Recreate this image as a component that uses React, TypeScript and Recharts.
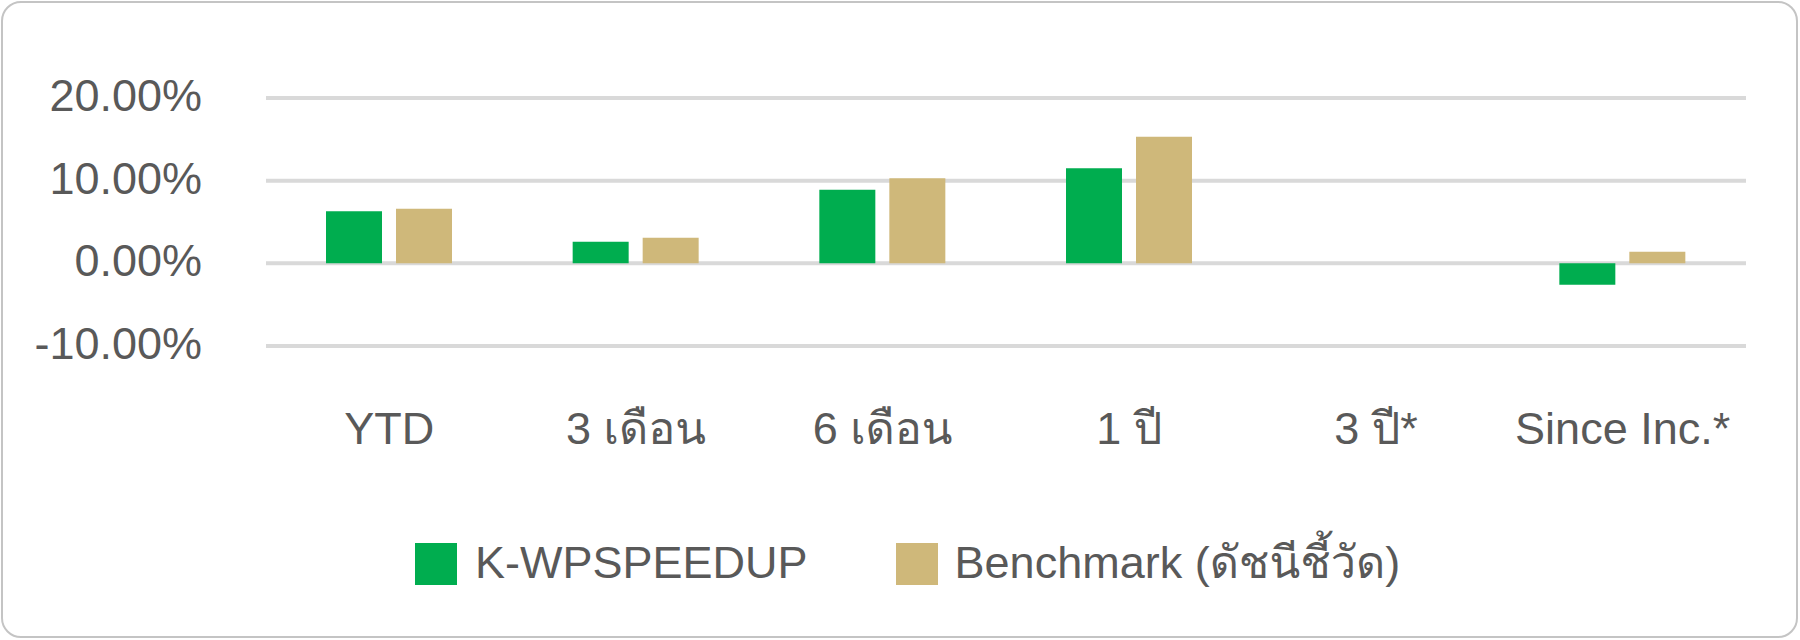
import React from 'react';
import { BarChart, Bar, XAxis, YAxis, CartesianGrid, Legend } from 'recharts';

const categories = ['YTD', '3 เดือน', '6 เดือน', '1 ปี', '3 ปี*', 'Since Inc.*'];
const fundValues: (number | null)[] = [6.3, 2.6, 8.9, 11.5, null, -2.6];
const benchmarkValues: (number | null)[] = [6.6, 3.1, 10.3, 15.3, null, 1.4];
const yTicks = [-10, 0, 10, 20];
const seriesNames = ['K-WPSPEEDUP', 'Benchmark (ดัชนีชี้วัด)'];
const seriesColors = ['#00AD4F', '#CFB87A'];

const data = categories.map((c, i) => ({
  name: c,
  fund: fundValues[i],
  bench: benchmarkValues[i],
}));

const FONT =
  '"Liberation Sans", Arial, Tahoma, "Waree", "Loma", "Garuda", "Noto Sans Thai Looped", "Noto Sans Thai", sans-serif';
const TEXT = '#595959';
const FS = 45;

const YTick = (props: any) => {
  const { x, y, payload } = props;
  return (
    <text
      x={x}
      y={y + FS * 0.355 - 3}
      textAnchor="end"
      fill={TEXT}
      fontSize={FS}
      fontFamily={FONT}
    >
      {`${Number(payload.value).toFixed(2)}%`}
    </text>
  );
};

const renderLegend = () => (
  <div
    style={{
      display: 'flex',
      alignItems: 'center',
      justifyContent: 'flex-start',
      height: 80,
      paddingLeft: 415,
      boxSizing: 'border-box',
      fontFamily: FONT,
      fontSize: FS,
      color: TEXT,
      lineHeight: 1,
    }}
  >
    {seriesNames.map((n, i) => (
      <div key={n} style={{ display: 'flex', alignItems: 'center', marginRight: i === 0 ? 88 : 0 }}>
        <span
          style={{
            display: 'inline-block',
            width: 42,
            height: 42,
            background: seriesColors[i],
            marginRight: i === 0 ? 18 : 17,
          }}
        />
        <span style={{ position: 'relative', top: -2, whiteSpace: 'nowrap' }}>{n}</span>
      </div>
    ))}
  </div>
);

export default function App() {
  return (
    <div style={{ position: 'absolute', left: 0, top: 0, width: 1800, height: 640, background: '#fff' }}>
      <div
        style={{
          position: 'absolute',
          left: 1,
          top: 1,
          width: 1797,
          height: 637,
          boxSizing: 'border-box',
          border: '2px solid #c4c4c4',
          borderRadius: 20,
        }}
      />
      <div style={{ position: 'absolute', left: 0, top: 0 }}>
        <BarChart
          width={1800}
          height={640}
          data={data}
          margin={{ top: 98, right: 54, left: 0, bottom: 36 }}
          barSize={56}
          barGap={14}
        >
          <CartesianGrid vertical={false} stroke="#d9d9d9" strokeWidth={4} />
          <XAxis
            dataKey="name"
            height={178}
            tickLine={false}
            axisLine={false}
            tickSize={0}
            tickMargin={66}
            interval={0}
            tick={{ fill: TEXT, fontSize: FS, fontFamily: FONT }}
          />
          <YAxis
            width={266}
            domain={[-10, 20]}
            ticks={yTicks}
            interval={0}
            tickLine={false}
            axisLine={false}
            tickSize={0}
            tickMargin={64}
            tick={<YTick />}
          />
          <Legend
            verticalAlign="bottom"
            align="left"
            height={80}
            content={renderLegend}
            wrapperStyle={{ left: 0, width: 1800, height: 80 }}
          />
          <Bar dataKey="fund" name={seriesNames[0]} fill={seriesColors[0]} isAnimationActive={false} />
          <Bar dataKey="bench" name={seriesNames[1]} fill={seriesColors[1]} isAnimationActive={false} />
        </BarChart>
      </div>
    </div>
  );
}
